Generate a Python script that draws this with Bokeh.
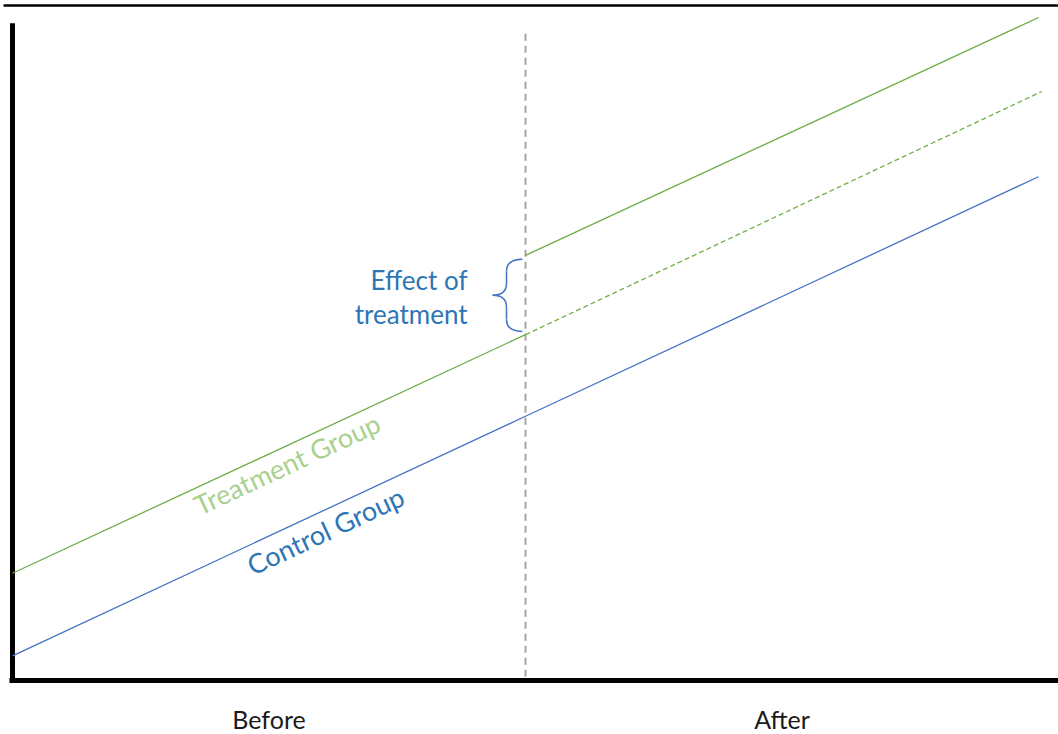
import math
from bokeh.plotting import figure
from bokeh.models import Range1d
from bokeh.core.properties import value
from bokeh.embed import file_html
from bokeh.resources import INLINE

# ---- data (arbitrary outcome units) ----
periods = [0, 1, 2]
period_labels = ["Before", "After"]
period_label_x = [0.5, 1.5]
control = [3.8, 40.65, 77.5]
treat_pre_x = [0, 1]
treat_pre = [16.5, 53.2]
treat_post_x = [1, 2]
treat_post = [65.4, 102.0]
counter_x = [1, 2.006]
counterfactual = [53.2, 90.6]
effect_label = ["Effect of", "treatment"]

GREEN = "#70AD47"
BLUE = "#4472C4"
TXT_BLUE = "#2E75B6"
LIGHT_GREEN = "#A9D18E"
FONT = value("Lato")

W, H = 1058, 734
x0, x1 = -0.0234, 2.039
y0, y1 = -8.308, 104.615
px_per_x = W / (x1 - x0)
px_per_y = H / (y1 - y0)

p = figure(width=W, height=H, output_backend="svg", toolbar_location=None,
           x_range=Range1d(x0, x1), y_range=Range1d(y0, y1), min_border=0,
           outline_line_color=None, background_fill_color="white",
           border_fill_color="white")
p.axis.visible = False
p.grid.visible = False

# top rule and axes
p.segment(x0=[-0.0175], y0=[103.85], x1=[x1], y1=[103.85], line_color="black", line_width=2.5)
p.segment(x0=[0], y0=[101.1], x1=[0], y1=[-0.4], line_color="black", line_width=5)
p.segment(x0=[-0.006], y0=[0], x1=[x1], y1=[0], line_color="black", line_width=5)

# treatment time marker
p.segment(x0=[periods[1]], y0=[99.5], x1=[periods[1]], y1=[0.3], line_color="#A6A6A6",
          line_width=2, line_dash="7 5")

# lines
p.line(periods, control, line_color=BLUE, line_width=1.3)
p.line(treat_pre_x, treat_pre, line_color=GREEN, line_width=1.3)
p.line(treat_post_x, treat_post, line_color=GREEN, line_width=1.3)
p.line(counter_x, counterfactual, line_color=GREEN, line_width=1.3, line_dash="5 3")

# brace showing the effect
top = treat_post[0] - 0.6
bot = counterfactual[0] + 0.5
mid = (top + bot) / 2
r = 1.85
xe, xm, xt = 1 - 0.006, 1 - 0.037, 1 - 0.064
p.quadratic(x0=[xe, xm, xe, xm], y0=[top, mid + r, bot, mid - r],
            x1=[xm, xt, xm, xt], y1=[top - r, mid, bot + r, mid],
            cx=[xm, xm, xm, xm], cy=[top, mid, bot, mid],
            line_color=BLUE, line_width=1.5)
p.segment(x0=[xm, xm], y0=[top - r, bot + r], x1=[xm, xm], y1=[mid + r, mid - r],
          line_color=BLUE, line_width=1.5)

# effect label
p.text(x=[1 - 0.113, 1 - 0.113], y=[mid + 2.3, mid - 2.8], text=effect_label,
       text_align="right", text_baseline="middle", text_font=FONT,
       text_font_size="26px", text_color=TXT_BLUE)

# rotated group labels
slope_c = (control[2] - control[0]) / (periods[2] - periods[0])
ang = math.atan(slope_c * px_per_y / px_per_x)
tx = 0.535
p.text(x=[tx], y=[treat_pre[0] + (treat_pre[1] - treat_pre[0]) * tx - 2.8],
       text=["Treatment Group"], angle=ang, text_align="center", text_baseline="middle",
       text_font=FONT, text_font_size="27px", text_color=LIGHT_GREEN)
cx_ = 0.61
p.text(x=[cx_], y=[control[0] + slope_c * cx_ - 3.2],
       text=["Control Group"], angle=ang, text_align="center", text_baseline="middle",
       text_font=FONT, text_font_size="27px", text_color=TXT_BLUE)

# period labels
p.text(x=period_label_x, y=[-5.85, -5.85], text=period_labels, text_align="center",
       text_baseline="middle", text_font=FONT, text_font_size="25px",
       text_color="#1a1a1a")

open("out.html", "w").write(file_html(p, INLINE))
